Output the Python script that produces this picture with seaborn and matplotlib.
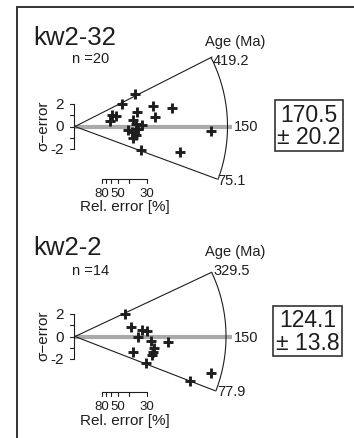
import numpy as np
import pandas as pd
import seaborn as sns
import matplotlib.pyplot as plt
from matplotlib.lines import Line2D

sns.set_theme(style="white")
plt.rcParams["font.family"] = ["Liberation Sans", "DejaVu Sans"]

# ---- data -------------------------------------------------------------
samples = ["kw2-32", "kw2-2"]
counts = [20, 14]
central_age = [170.5, 124.1]
central_err = [20.2, 13.8]
age_max = [419.2, 329.5]
age_min = [75.1, 77.9]
age_ref = 150

# precision (1 / relative error) and standardised estimate of each grain
prec_kw2_32 = [2.79, 2.20, 3.61, 4.51, 2.90, 3.72, 1.72, 1.91, 1.63, 2.68,
               2.84, 3.13, 2.48, 2.64, 2.94, 2.84, 2.71, 3.06, 4.88, 6.31]
z_kw2_32 = [2.82, 2.00, 1.82, 1.62, 1.25, 0.81, 1.01, 0.89, 0.46, 0.54,
            0.25, 0.11, -0.28, -0.48, -0.22, -0.77, -0.98, -2.04, -2.24, -0.42]

prec_kw2_2 = [2.33, 2.59, 3.12, 3.33, 2.93, 3.53, 4.33, 3.66, 3.61, 2.68,
              3.58, 3.30, 5.36, 6.31]
z_kw2_2 = [1.97, 0.81, 0.54, 0.46, -0.07, -0.37, -0.46, -1.05, -1.36, -1.36,
           -1.65, -2.32, -3.90, -3.23]

sigma_ticks = [-2, -1, 0, 1, 2]
sigma_labels = ["-2", "", "0", "", "2"]
rel_err_ticks = [80, 70, 60, 50, 40, 30]
rel_err_labels = {80: "80", 50: "50", 30: "30"}

# ---- layout (pixels) --------------------------------------------------
W, H = 354, 439
KX, KY = 21.5, 11.4          # pixels per precision unit / per sigma unit
INK = "#1e1e1e"

fig = plt.figure(figsize=(W / 100, H / 100), dpi=100)
fig.patch.set_facecolor("white")


def put(ax, s, dx, dy, **kw):
    ax.annotate(s, xy=(0, 0), xycoords="data", xytext=(dx, dy),
                textcoords="offset pixels", color=INK, **kw)


def radial_panel(i, prec, z, top_px, bot_px, origin, wedge_hi, wedge_lo,
                 radius, n_dy, max_dy, min_dy, box_xy, scale_dy):
    ax = fig.add_axes([0, 1 - bot_px / H, 1, (bot_px - top_px) / H])
    ox, oy = origin
    ax.set_xlim(-ox / KX, (W - ox) / KX)
    ax.set_ylim((oy - bot_px) / KY, (oy - top_px) / KY)
    ax.axis("off")

    # reference line at the 150 Ma level
    ax.plot([0, 157 / KX], [0, 0], color="#a9a9a9", lw=3.0,
            solid_capstyle="butt", zorder=1)

    # wedge and age arc
    th_hi = np.arctan2(wedge_hi[1], wedge_hi[0])
    th_lo = np.arctan2(wedge_lo[1], wedge_lo[0])
    ax.plot([0, wedge_hi[0] / KX], [0, wedge_hi[1] / KY], color=INK, lw=0.8)
    ax.plot([0, wedge_lo[0] / KX], [0, wedge_lo[1] / KY], color=INK, lw=0.8)
    th = np.linspace(th_lo, th_hi, 120)
    ax.plot(radius * np.cos(th) / KX, radius * np.sin(th) / KY,
            color=INK, lw=0.8)

    # grains
    df = pd.DataFrame({"precision": prec, "z": z})
    sns.scatterplot(data=df, x="precision", y="z", marker="+", s=46,
                    linewidth=2.1, color=INK, ax=ax, legend=False, zorder=5)

    # sigma scale
    xs = -1.5 / KX
    ax.plot([xs, xs], [-2, 2], color=INK, lw=0.8)
    for t, lab in zip(sigma_ticks, sigma_labels):
        ax.plot([xs - 3.5 / KX, xs], [t, t], color=INK, lw=0.8)
        if lab:
            ax.annotate(lab, xy=(xs, t), xytext=(-10, 0),
                        textcoords="offset pixels", ha="right", va="center",
                        fontsize=11, color=INK)
    put(ax, "σ\u2212error", -32, 2, rotation=90, ha="center", va="center",
        fontsize=11)

    # relative error scale
    ys = scale_dy / KY
    px = [100 / r for r in rel_err_ticks]
    ax.plot([min(px), max(px)], [ys, ys], color=INK, lw=0.8)
    for r, p in zip(rel_err_ticks, px):
        ax.plot([p, p], [ys, ys - 4 / KY], color=INK, lw=0.8)
        if r in rel_err_labels:
            ax.annotate(rel_err_labels[r], xy=(p, ys), xytext=(0, -14),
                        textcoords="offset pixels", ha="center", va="center",
                        fontsize=9.5, color=INK)
    put(ax, "Rel. error [%]", 50, scale_dy - 27.5, ha="center", va="center",
        fontsize=11)

    # labels
    put(ax, samples[i], -42, 82.5, ha="left", va="baseline", fontsize=18.5)
    put(ax, f"n ={counts[i]}", -3, n_dy, ha="left", va="baseline",
        fontsize=10.5)
    put(ax, "Age (Ma)", 130, 81.5, ha="left", va="baseline", fontsize=10.5)
    put(ax, f"{age_max[i]}", 138, max_dy, ha="left", va="baseline",
        fontsize=10.5)
    put(ax, f"{age_ref}", 159, 0, ha="left", va="center", fontsize=10.5)
    put(ax, f"{age_min[i]}", 142, min_dy, ha="left", va="baseline",
        fontsize=10.5)
    put(ax, f"{central_age[i]}\n± {central_err[i]}", box_xy[0], box_xy[1],
        ha="center", va="center", multialignment="center", fontsize=16.5,
        linespacing=0.95,
        bbox=dict(boxstyle="square,pad=0.12", fc="white", ec="#333333",
                  lw=1.2))
    return ax


radial_panel(0, prec_kw2_32, z_kw2_32, 0, 219.5, (75, 127.5),
             (137, 69.5), (142, -52.5), 152.5, 64.5, 62.5, -57.5,
             (234, 1), -52.5)
radial_panel(1, prec_kw2_2, z_kw2_2, 219.5, 439, (75, 337.5),
             (136.7, 64.2), (140, -54.2), 151, 62.5, 62.5, -59,
             (232.5, 5.5), -55.5)

# page frame (top and left edges)
fig.add_artist(Line2D([17 / W, 1], [1 - 8 / H, 1 - 8 / H], color="#333333",
                      lw=1.4, transform=fig.transFigure))
fig.add_artist(Line2D([17 / W, 17 / W], [0, 1 - 8 / H], color="#333333",
                      lw=1.4, transform=fig.transFigure))

fig.savefig("out.png", dpi=100, facecolor="white")
